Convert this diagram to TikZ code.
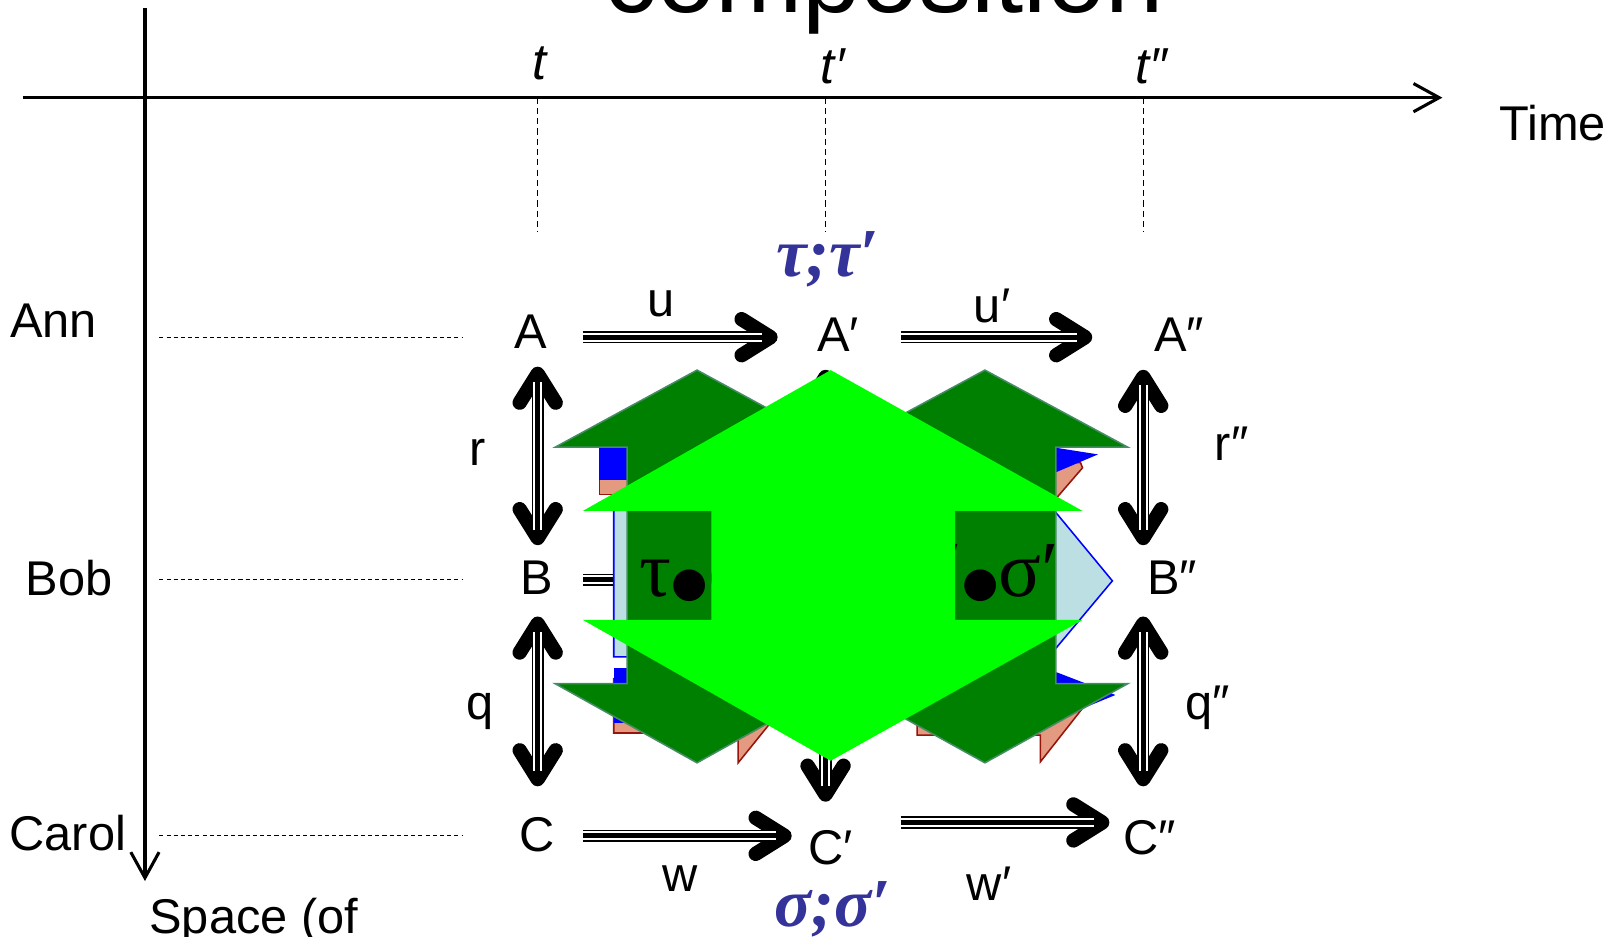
\documentclass[tikz,border=0pt]{standalone}
\usepackage{fontspec}
\setmainfont{Liberation Sans}
\newfontfamily\grfont{Liberation Serif}
\newfontfamily\symfont{DejaVu Sans}
\usetikzlibrary{arrows.meta, calc}

\definecolor{dkgreen}{RGB}{0,128,0}
\definecolor{lime}{RGB}{0,255,0}
\definecolor{edgegreen}{RGB}{70,140,100}
\definecolor{salmon}{RGB}{228,154,128}
\definecolor{dkred}{RGB}{150,20,10}
\definecolor{paleblue}{RGB}{188,223,228}
\definecolor{labelblue}{RGB}{51,51,153}

\tikzset{
  chev/.tip={Straight Barb[round, length=0.56cm, width=0.7cm, line width'=0.28cm]},
  lbl/.style={inner sep=0pt, font=\fontsize{27}{30}\selectfont},
  tlbl/.style={inner sep=0pt, font=\fontsize{28}{30}\selectfont\itshape},
  greek/.style={inner sep=0pt, text=labelblue, font=\grfont\fontsize{38}{40}\selectfont\bfseries\itshape},
  bigtxt/.style={inner sep=0pt, font=\grfont\fontsize{44}{46}\selectfont},
  tri/.style={line width=0.24cm, -chev,
    postaction={draw=white, line width=0.17cm, -, shorten >=0.3cm},
    postaction={draw=black, line width=0.1cm, -, shorten >=0.3cm}},
  tritwo/.style={line width=0.24cm, chev-chev,
    postaction={draw=white, line width=0.17cm, -, shorten >=0.3cm, shorten <=0.3cm},
    postaction={draw=black, line width=0.1cm, -, shorten >=0.3cm, shorten <=0.3cm}},
  axisline/.style={line width=0.06cm, -{Straight Barb[length=0.5cm, width=0.55cm]}},
  tick/.style={line width=0.026cm, dash pattern=on 0.12cm off 0.08cm},
  row/.style={line width=0.02cm, dash pattern=on 0.08cm off 0.06cm},
  dkarrow/.style={fill=dkgreen, draw=edgegreen, line width=0.03cm},
  ltarrow/.style={fill=lime},
  salmonbox/.style={fill=salmon, draw=dkred, line width=0.03cm}
}

\begin{document}
\begin{tikzpicture}[x=0.02cm, y=-0.02cm]
    \useasboundingbox (0,0) rectangle (1568,911);
    \clip (0,0) rectangle (1568,911);

    % Title
    \node[anchor=base, inner sep=0pt, font=\fontsize{58}{60}\selectfont] (title) at (860,12) {composition};

    % Axes
    \coordinate (o) at (141,95);
    \draw[axisline] (22,95) -- (1403,95);
    \draw[axisline] (141,8) -- (141,857);
    \node[lbl, anchor=west] (time) at (1458,120) {Time};
    \node[lbl, anchor=base west] (space) at (145,908) {Space (of};

    % Times
    \node[tlbl] (t0) at (525,62) {t};
    \node[tlbl] (t1) at (810,65) {t′};
    \node[tlbl] (t2) at (1120,65) {t″};
    \coordinate (k0) at (523,225);
    \coordinate (k1) at (803,225);
    \coordinate (k2) at (1112,225);
    \draw[tick] (k0 |- o) -- (k0);
    \draw[tick] (k1 |- o) -- (k1);
    \draw[tick] (k2 |- o) -- (k2);

    % Places
    \node[lbl] (ann) at (52,312) {Ann};
    \node[lbl] (bob) at (67,562) {Bob};
    \node[lbl] (carol) at (66,810) {Carol};
    \coordinate (rowA) at (450,328);
    \coordinate (rowB) at (450,564);
    \coordinate (rowC) at (450,813);
    \draw[row] (155,328) -- (rowA);
    \draw[row] (155,564) -- (rowB);
    \draw[row] (155,813) -- (rowC);

    % States
    \node[lbl] (A) at (516,323) {A};
    \node[lbl] (A1) at (815,326) {A′};
    \node[lbl] (A2) at (1147,326) {A″};
    \node[lbl] (B) at (522,562) {B};
    \node[lbl] (B2) at (1140,562) {B″};
    \node[lbl] (C) at (522,812) {C};
    \node[lbl] (C1) at (808,825) {C′};
    \node[lbl] (C2) at (1118,815) {C″};

    % Labels
    \node[lbl] (u) at (643,296) {u};
    \node[lbl] (u1) at (965,298) {u′};
    \node[lbl] (w) at (662,855) {w};
    \node[lbl] (w1) at (962,860) {w′};
    \node[lbl] (r) at (465,440) {r};
    \node[lbl] (r2) at (1198,432) {r″};
    \node[lbl] (q) at (467,692) {q};
    \node[lbl] (q2) at (1175,688) {q″};
    \node[greek] (tt) at (805,252) {τ;τ′};
    \node[greek] (ss) at (810,885) {σ;σ′};

    % Transitions
    \draw[tri] ($(A.east |- rowA)+(35,0)$) -- ($(A1.west |- rowA)+(-38,0)$);
    \draw[tri] ($(A1.east |- rowA)+(41,0)$) -- ($(A2.west |- rowA)+(-60,0)$);
    \draw[tri] ($(B.east |- rowB)+(29,0)$) -- ($(B2.west |- rowB)+(-51,0)$);
    \draw[tri] ($(C.east |- rowC)+(28,0)$) -- ($(C1.west |- rowC)+(-16,0)$);
    \draw[tri] ($(C1.east |- C2.west)+(46,-15)$) -- ($(C2.west)+(-13,-15)$);

    % Links
    \draw[tritwo] ($(k0 |- A.south)+(0,17)$) -- ($(k0 |- B.north)+(0,-15)$);
    \draw[tritwo] ($(k0 |- B.south)+(0,21)$) -- ($(k0 |- C.north)+(0,-30)$);
    \draw[tritwo] ($(k1 |- A1.south)+(0,17)$) -- ($(k1 |- C1.north)+(0,-28)$);
    \draw[tritwo] ($(k2 |- A2.south)+(0,17)$) -- ($(k2 |- B2.north)+(0,-15)$);
    \draw[tritwo] ($(k2 |- B2.south)+(0,21)$) -- ($(k2 |- C2.north)+(0,-33)$);

    % Shapes behind
    \draw[fill=paleblue, draw=blue, line width=0.03cm] (597,490) -- (1020,490) -- (1082,565) -- (1020,639) -- (597,639) -- cycle;
    \draw[salmonbox] (583,450) rectangle (700,481);
    \fill[blue] (583,436) rectangle (700,467);
    \draw[salmonbox] (597,660) -- (597,713) -- (718,713) -- (718,742) -- (760,690) -- (760,660) -- cycle;
    \fill[blue] (597,650) rectangle (700,703);
    \draw[salmonbox] (900,450) -- (1051,450) -- (1053,455) -- (1028,484) -- (900,484) -- cycle;
    \fill[blue] (900,436) -- (1030,436) -- (1068,442) -- (1028,459) -- (900,459) -- cycle;
    \draw[salmonbox] (892,670) -- (892,715) -- (1012,715) -- (1012,741) -- (1060,680) -- (1060,670) -- cycle;
    \fill[blue] (900,654) -- (1028,654) -- (1085,676) -- (1051,690) -- (900,690) -- cycle;

    % Dark arrows
    \draw[dkarrow] (678,360) -- (816,435) -- (746,435) -- (746,665) -- (816,665) -- (678,742) -- (540,665) -- (610,665) -- (610,435) -- (540,435) -- cycle;
    \draw[dkarrow] (958,360) -- (1097,435) -- (1027,435) -- (1027,665) -- (1097,665) -- (958,742) -- (819,665) -- (889,665) -- (889,435) -- (819,435) -- cycle;
    \node[bigtxt, anchor=base west] (tsl) at (622,580) {τ{\symfont\fontsize{23}{26}\selectfont ●}σ};
    \node[bigtxt, anchor=base east] (tsr) at (1030,580) {τ′{\symfont\fontsize{23}{26}\selectfont ●}σ′};

    % Light arrow
    \fill[ltarrow] (808,360) -- (1053,497) -- (929,497) -- (929,603) -- (1053,603) -- (808,740) -- (567,603) -- (692,603) -- (692,497) -- (567,497) -- cycle;
\end{tikzpicture}
\end{document}
